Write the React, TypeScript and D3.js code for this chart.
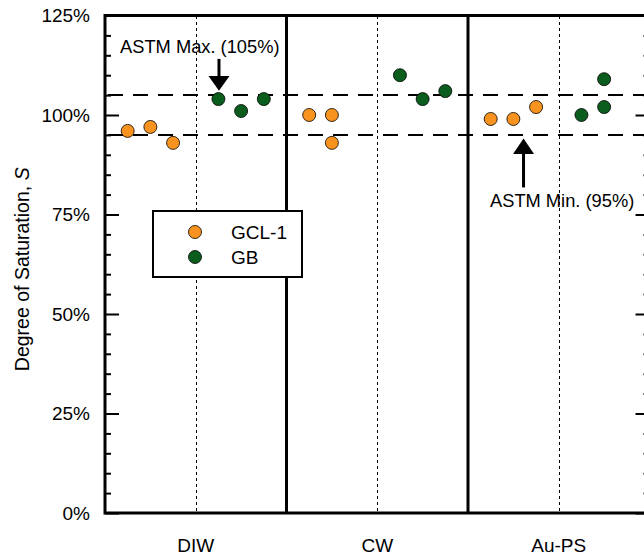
import React from 'react'
import * as d3 from 'd3'

const groups = ['DIW', 'CW', 'Au-PS']
const yTicks = [0, 25, 50, 75, 100, 125]
const yTickLabels = ['0%', '25%', '50%', '75%', '100%', '125%']

// specimen slot inside each group (eighths of the group width) and saturation (%)
const gclSlots = [[1, 2, 3], [1, 2, 2], [1, 2, 3]]
const gclValues = [[96, 97, 93], [100, 100, 93], [99, 99, 102]]
const gbSlots = [[5, 6, 7], [5, 6, 7], [5, 6, 6]]
const gbValues = [[104, 101, 104], [110, 104, 106], [100, 109, 102]]

const astmMax = 105
const astmMin = 95

const series = [
  {name: 'GCL-1', color: '#F7931E', slots: gclSlots, values: gclValues},
  {name: 'GB', color: '#0B5D1E', slots: gbSlots, values: gbValues},
]

const font = '"Liberation Sans", Arial, Helvetica, sans-serif'

class SaturationChart extends React.Component<any> {
  myRef: any
  constructor(props: any) {
    super(props)
    this.myRef = React.createRef()
  }

  componentDidMount() {
    const width = 644
    const height = 558
    const margin = {top: 15.5, right: -5.5, bottom: 45, left: 105}

    const x = d3.scaleLinear()
      .domain([0, groups.length])
      .range([margin.left, width - margin.right])

    const y = d3.scaleLinear()
      .domain([0, 125])
      .range([height - margin.bottom, margin.top])

    const svg = d3.select(this.myRef.current)
      .append('svg')
      .attr('width', width)
      .attr('height', height)
      .style('display', 'block')
      .style('font-family', font)

    const minor = d3.range(0, 126, 5).filter(v => v % 25 !== 0)

    // group centre dotted lines
    svg.append('g')
      .selectAll('line')
      .data(groups)
      .join('line')
      .attr('x1', (d, i) => Math.round(x(i + 0.5)) + 0.5)
      .attr('x2', (d, i) => Math.round(x(i + 0.5)) + 0.5)
      .attr('y1', y(125))
      .attr('y2', y(0))
      .attr('stroke', 'black')
      .attr('stroke-width', 1)
      .attr('stroke-dasharray', '3,3')
      .attr('shape-rendering', 'crispEdges')

    // ASTM limits
    svg.append('g')
      .selectAll('line')
      .data([astmMax, astmMin])
      .join('line')
      .attr('x1', x(0))
      .attr('x2', x(groups.length))
      .attr('y1', d => y(d))
      .attr('y2', d => y(d))
      .attr('stroke', 'black')
      .attr('stroke-width', 2)
      .attr('stroke-dasharray', '15,10')
      .attr('stroke-dashoffset', -3)

    // y ticks, left (inward) and right (inward)
    svg.append('g')
      .attr('transform', `translate(${x(0)},0)`)
      .call(d3.axisRight(y).tickValues(yTicks).tickSize(14).tickFormat(() => ''))
      .call(g => g.select('.domain').remove())
      .call(g => g.selectAll('line').attr('stroke-width', 2))
    svg.append('g')
      .attr('transform', `translate(${x(0)},0)`)
      .call(d3.axisRight(y).tickValues(minor).tickSize(6).tickFormat(() => ''))
      .call(g => g.select('.domain').remove())
      .call(g => g.selectAll('line').attr('stroke-width', 2))
    svg.append('g')
      .attr('transform', `translate(${x(groups.length)},0)`)
      .call(d3.axisLeft(y).tickValues(yTicks).tickSize(14).tickFormat(() => ''))
      .call(g => g.select('.domain').remove())
      .call(g => g.selectAll('line').attr('stroke-width', 2))
    svg.append('g')
      .attr('transform', `translate(${x(groups.length)},0)`)
      .call(d3.axisLeft(y).tickValues(minor).tickSize(6).tickFormat(() => ''))
      .call(g => g.select('.domain').remove())
      .call(g => g.selectAll('line').attr('stroke-width', 2))

    // y tick labels
    svg.append('g')
      .attr('transform', `translate(${x(0)},0)`)
      .call(d3.axisLeft(y).tickValues(yTicks).tickSize(0).tickPadding(15)
        .tickFormat((d, i) => yTickLabels[i]))
      .call(g => g.select('.domain').remove())
      .call(g => g.selectAll('text')
        .attr('font-size', 19)
        .attr('font-family', font)
        .attr('fill', 'black'))

    // x labels
    svg.append('g')
      .selectAll('text')
      .data(groups)
      .join('text')
      .attr('x', (d, i) => x(i + 0.5))
      .attr('y', 552)
      .attr('text-anchor', 'middle')
      .attr('font-size', 19)
      .text(d => d)

    // frame and group separators
    svg.append('rect')
      .attr('x', x(0))
      .attr('y', y(125))
      .attr('width', x(groups.length) - x(0))
      .attr('height', y(0) - y(125))
      .attr('fill', 'none')
      .attr('stroke', 'black')
      .attr('stroke-width', 3)
    svg.append('g')
      .selectAll('line')
      .data(d3.range(1, groups.length))
      .join('line')
      .attr('x1', d => x(d))
      .attr('x2', d => x(d))
      .attr('y1', y(125))
      .attr('y2', y(0))
      .attr('stroke', 'black')
      .attr('stroke-width', 3)

    // points
    series.forEach(s => {
      const pts = s.values.flatMap((vals, gi) =>
        vals.map((v, k) => ({gx: gi + s.slots[gi][k] / 8, v})))
      svg.append('g')
        .selectAll('circle')
        .data(pts)
        .join('circle')
        .attr('cx', d => x(d.gx))
        .attr('cy', d => y(d.v))
        .attr('r', 6.5)
        .attr('fill', s.color)
        .attr('stroke', 'black')
        .attr('stroke-width', 0.8)
    })

    // annotations
    const arrow = (gx: number, from: number, base: number, tip: number) => {
      svg.append('line')
        .attr('x1', x(gx)).attr('x2', x(gx))
        .attr('y1', y(from)).attr('y2', y(base))
        .attr('stroke', 'black').attr('stroke-width', 3)
      svg.append('path')
        .attr('d', `M${x(gx) - 10.5},${y(base)}L${x(gx) + 10.5},${y(base)}L${x(gx)},${y(tip)}Z`)
        .attr('fill', 'black')
    }
    arrow(0.628, 114.1, 109.8, 106.1)
    arrow(2.306, 81.8, 90.2, 94.1)

    svg.append('text')
      .attr('x', x(0.083))
      .attr('y', 53)
      .attr('font-size', 18.3)
      .text('ASTM Max. (105%)')
    svg.append('text')
      .attr('x', 490)
      .attr('y', 207)
      .attr('font-size', 18.3)
      .text('ASTM Min. (95%)')

    // legend
    const legend = svg.append('g').attr('transform', 'translate(153,211)')
    legend.append('rect')
      .attr('width', 149)
      .attr('height', 66)
      .attr('fill', 'white')
      .attr('stroke', 'black')
      .attr('stroke-width', 2)
    series.forEach((s, i) => {
      legend.append('circle')
        .attr('cx', 42)
        .attr('cy', 21 + i * 25)
        .attr('r', 6.5)
        .attr('fill', s.color)
        .attr('stroke', 'black')
        .attr('stroke-width', 0.8)
      legend.append('text')
        .attr('x', 78)
        .attr('y', 21 + i * 25)
        .attr('dy', '0.35em')
        .attr('font-size', 19)
        .text(s.name)
    })

    // y title
    const title = svg.append('text')
      .attr('transform', `translate(29,${(y(0) + y(125)) / 2 + 5}) rotate(-90)`)
      .attr('text-anchor', 'middle')
      .attr('font-size', 19.5)
    title.append('tspan').text('Degree of Saturation, ')
    title.append('tspan').attr('font-style', 'italic').text('S')
  }

  render() {
    return <div ref={this.myRef}></div>
  }
}

export default function App() {
  return (
    <div style={{position: 'fixed', left: 0, top: 0, width: 644, height: 558, overflow: 'hidden', background: 'white'}}>
      <SaturationChart />
    </div>
  )
}
